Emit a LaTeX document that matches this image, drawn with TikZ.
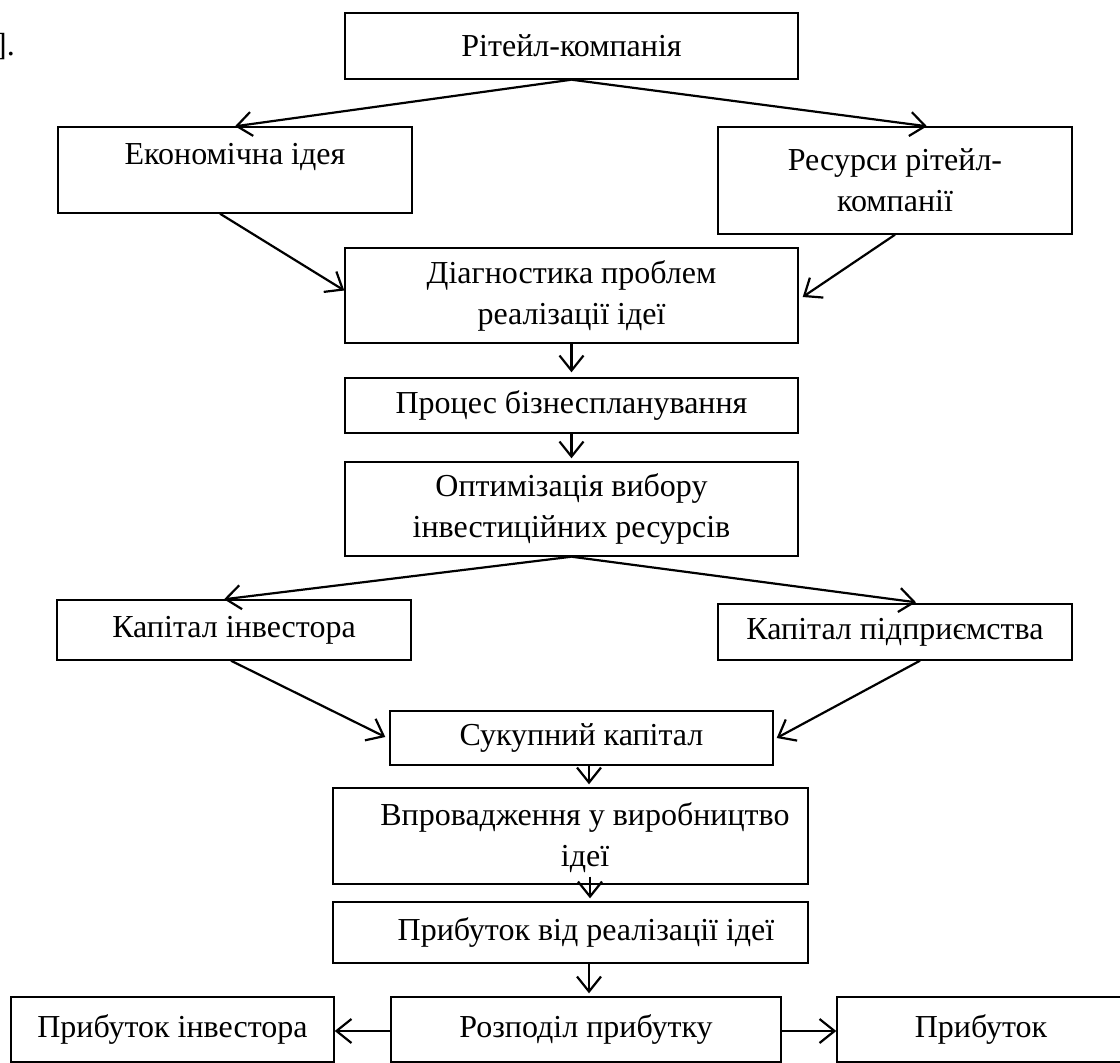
\documentclass[tikz,border=0pt]{standalone}
\usepackage{fontspec}
\setmainfont{Liberation Serif}
\usetikzlibrary{arrows.meta,calc}
\begin{document}
\begin{tikzpicture}[x=1pt,y=-1pt,
  boxst/.style={draw, line width=1.4pt, inner sep=0pt, align=center, font=\fontsize{32}{41}\selectfont},
  txt/.style={inner sep=0pt, align=center, font=\fontsize{32}{41}\selectfont},
  conn/.style={line width=2.2pt, -{Straight Barb[length=15pt,width=24pt]}}]
\useasboundingbox (0,0) rectangle (1120,1063);
\fill[white] (0,0) rectangle (1120,1063);

\node[txt, anchor=base east] (ref) at (15,55) {].};

\node[boxst, minimum width=453pt, minimum height=66pt] (ret) at (571.5,46) {Рітейл-компанія};
\node[boxst, minimum width=354pt, minimum height=86pt] (eko) at (235,170) {};
\node[txt] (ekot) at (235,157) {Економічна ідея};
\node[boxst, minimum width=354pt, minimum height=107pt] (res) at (895,180.5) {Ресурси рітейл-\\компанії};
\node[boxst, minimum width=453pt, minimum height=95pt] (dia) at (571.5,295.5) {Діагностика проблем\\реалізації ідеї};
\node[boxst, minimum width=453pt, minimum height=55pt] (pro) at (571.5,405.5) {Процес бізнеспланування};
\node[boxst, minimum width=453pt, minimum height=94pt] (opt) at (571.5,509) {Оптимізація вибору\\інвестиційних ресурсів};
\node[boxst, minimum width=354pt, minimum height=60pt] (kin) at (234,630) {Капітал інвестора};
\node[boxst, minimum width=354pt, minimum height=56pt] (kpd) at (895,632) {Капітал підприємства};
\node[boxst, minimum width=383pt, minimum height=54pt] (suk) at (581.5,738) {Сукупний капітал};
\node[boxst, minimum width=475pt, minimum height=96pt] (vpr) at (570.5,836) {};
\node[txt] (vprt) at (585,838) {Впровадження у виробництво\\ідеї};
\node[boxst, minimum width=475pt, minimum height=61pt] (prv) at (570.5,932.5) {};
\node[txt] (prvt) at (586,932) {Прибуток від реалізації ідеї};
\node[boxst, minimum width=390pt, minimum height=65pt] (roz) at (586,1029.5) {Розподіл прибутку};
\node[boxst, minimum width=323pt, minimum height=65pt] (pin) at (172.5,1029.5) {Прибуток інвестора};
\node[boxst, minimum width=288pt, minimum height=65pt] (pr) at (981,1029.5) {Прибуток};

\draw[conn] (ret.south) -- (eko.north);
\draw[conn] (ret.south) -- ($(res.north)+(32,0)$);
\draw[conn] ($(eko.south)+(-15,0)$) -- ($(dia.west)+(0,-5)$);
\draw[conn] (res.south) -- ($(dia.east)+(4,1.5)$);
\draw[conn] (dia.south) -- ($(pro.north)+(0,-5)$);
\draw[conn] (pro.south) -- ($(opt.north)+(0,-3)$);
\draw[conn] (opt.south) -- ($(kin.north)+(-10,0)$);
\draw[conn] (opt.south) -- ($(kpd.north)+(21,-1)$);
\draw[conn] ($(kin.south)+(-3,0)$) -- ($(suk.west)+(-4,-1)$);
\draw[conn] ($(kpd.south)+(25,0)$) -- ($(suk.east)+(3,0)$);
\draw[conn] ($(suk.south)+(7.5,0)$) -- ($(vpr.north)+(18.5,-3)$);
\draw[conn] ($(vpr.south)+(19.5,-8)$) -- ($(prv.north)+(19.5,-3)$);
\draw[conn] ($(prv.south)+(18.5,0)$) -- ($(roz.north)+(3,-3)$);
\draw[conn] ($(roz.west)+(0,1.5)$) -- ($(pin.east)+(0,1.5)$);
\draw[conn] ($(roz.east)+(0,1.5)$) -- ($(pr.west)+(0,1.5)$);
\end{tikzpicture}
\end{document}
